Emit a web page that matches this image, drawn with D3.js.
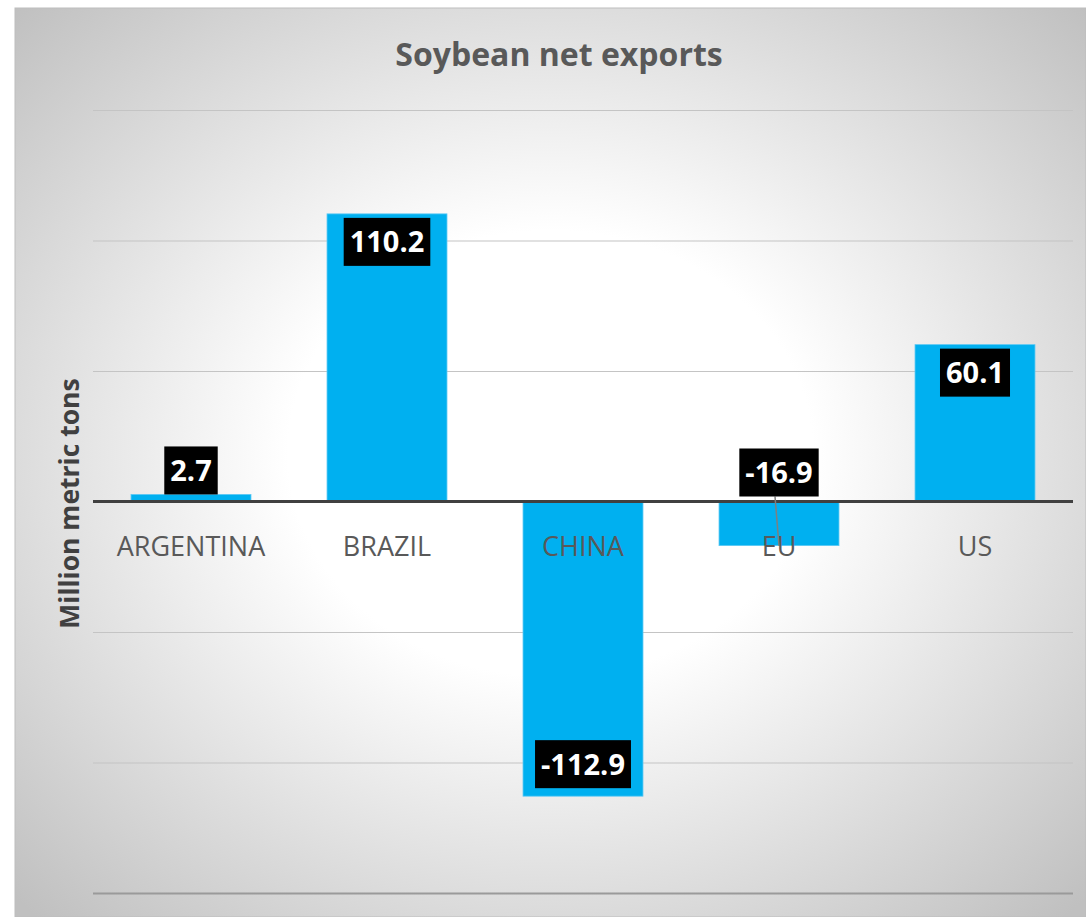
<!DOCTYPE html>
<html>
<head>
<meta charset="utf-8">
<script src="https://cdn.jsdelivr.net/npm/d3@7"></script>
<style>
  body { margin: 0; background: #fff; }
  svg { display: block; }
</style>
</head>
<body>
<svg id="chart" width="1086" height="917"></svg>
<script>
// values
const countries = ["ARGENTINA", "BRAZIL", "CHINA", "EU", "US"];
const netExports = [2.7, 110.2, -112.9, -16.9, 60.1];
const gridTicks = [-150, -100, -50, 0, 50, 100, 150];

const svg = d3.select("#chart");
const width = +svg.attr("width");
const height = +svg.attr("height");

const data = countries.map((c, i) => ({ name: c, value: netExports[i] }));

// chart area background: soft radial fade to gray
const defs = svg.append("defs");
const grad = defs
  .append("radialGradient")
  .attr("id", "bg")
  .attr("cx", 0.5)
  .attr("cy", 0.49)
  .attr("r", 0.7);
grad.append("stop").attr("offset", "0").attr("stop-color", "#ffffff");
grad.append("stop").attr("offset", "0.35").attr("stop-color", "#ffffff");
grad.append("stop").attr("offset", "1").attr("stop-color", "#c0c0c0");

svg
  .append("rect")
  .attr("x", 15)
  .attr("y", 8)
  .attr("width", width - 15)
  .attr("height", height - 8)
  .attr("fill", "url(#bg)")
  .attr("stroke", "#bdbdbd")
  .attr("stroke-width", 1);

const x = d3
  .scaleBand()
  .domain(countries)
  .range([93, 1073])
  .paddingInner(0.388)
  .paddingOuter(0.194);

const y = d3.scaleLinear().domain([-150, 150]).range([893, 110]);

// gridlines
const grid = svg
  .append("g")
  .attr("transform", `translate(${x.range()[0]},0)`)
  .call(
    d3
      .axisLeft(y)
      .tickValues(gridTicks.filter((t) => t !== 0))
      .tickSize(-(x.range()[1] - x.range()[0]))
      .tickFormat("")
  );
grid.select(".domain").remove();
grid
  .selectAll(".tick line")
  .attr("stroke", (d) => (d === -150 ? "#9a9a9a" : "#c4c4c4"))
  .attr("stroke-width", (d) => (d === -150 ? 2 : 1.2));

// title
svg
  .append("text")
  .attr("x", 559)
  .attr("y", 66)
  .attr("text-anchor", "middle")
  .attr("font-family", "'Open Sans', sans-serif")
  .attr("font-weight", "bold")
  .attr("font-size", 32)
  .attr("fill", "#595959")
  .text("Soybean net exports");

// y axis title
svg
  .append("text")
  .attr("transform", `translate(79,${y(0) + 2}) rotate(-90)`)
  .attr("text-anchor", "middle")
  .attr("font-family", "'Open Sans', sans-serif")
  .attr("font-weight", "bold")
  .attr("font-size", 26.5)
  .attr("fill", "#404040")
  .text("Million metric tons");

// bars
svg
  .append("g")
  .selectAll("rect")
  .data(data)
  .join("rect")
  .attr("x", (d) => x(d.name))
  .attr("width", x.bandwidth())
  .attr("y", (d) => y(Math.max(0, d.value)))
  .attr("height", (d) => Math.abs(y(d.value) - y(0)))
  .attr("fill", "#00b0f0")
  .attr("stroke", "#5cc8f4")
  .attr("stroke-width", 0.8);

// category labels (drawn after bars, like the reference)
svg
  .append("g")
  .selectAll("text")
  .data(data)
  .join("text")
  .attr("x", (d) => x(d.name) + x.bandwidth() / 2)
  .attr("y", y(0) + 54)
  .attr("text-anchor", "middle")
  .attr("font-family", "'Open Sans', sans-serif")
  .attr("font-size", 27)
  .attr("fill", "#595959")
  .text((d) => d.name);

// zero line
svg
  .append("line")
  .attr("x1", x.range()[0])
  .attr("x2", x.range()[1])
  .attr("y1", y(0))
  .attr("y2", y(0))
  .attr("stroke", "#404040")
  .attr("stroke-width", 3);

// data labels: black boxes with white text
const boxH = 48;
const labels = svg.append("g").selectAll("g").data(data).join("g");

labels.each(function (d) {
  const g = d3.select(this);
  const cx = x(d.name) + x.bandwidth() / 2;
  const barLen = Math.abs(y(d.value) - y(0));
  let top;
  let leader = false;
  if (barLen > 80) {
    // inside end of the bar
    top = d.value > 0 ? y(d.value) + 4 : y(d.value) - 8 - boxH;
  } else {
    // sits just above the zero line
    top = y(0) - (d.value > 0 ? barLen : 5) - boxH;
    leader = d.value < 0;
  }
  const txt = g
    .append("text")
    .attr("x", cx)
    .attr("y", top + boxH / 2)
    .attr("dy", "0.36em")
    .attr("text-anchor", "middle")
    .attr("font-family", "'Open Sans', sans-serif")
    .attr("font-weight", "bold")
    .attr("font-size", 29)
    .attr("fill", "#ffffff")
    .text(d.value.toFixed(1));
  const w = txt.node().getComputedTextLength() + 12;
  if (leader) {
    g.insert("line", "text")
      .attr("x1", cx - 4)
      .attr("y1", top + boxH)
      .attr("x2", cx)
      .attr("y2", y(d.value))
      .attr("stroke", "#7f7f7f")
      .attr("stroke-width", 1.5);
  }
  g.insert("rect", "text")
    .attr("x", cx - w / 2)
    .attr("y", top)
    .attr("width", w)
    .attr("height", boxH)
    .attr("fill", "#000");
});
</script>
</body>
</html>
